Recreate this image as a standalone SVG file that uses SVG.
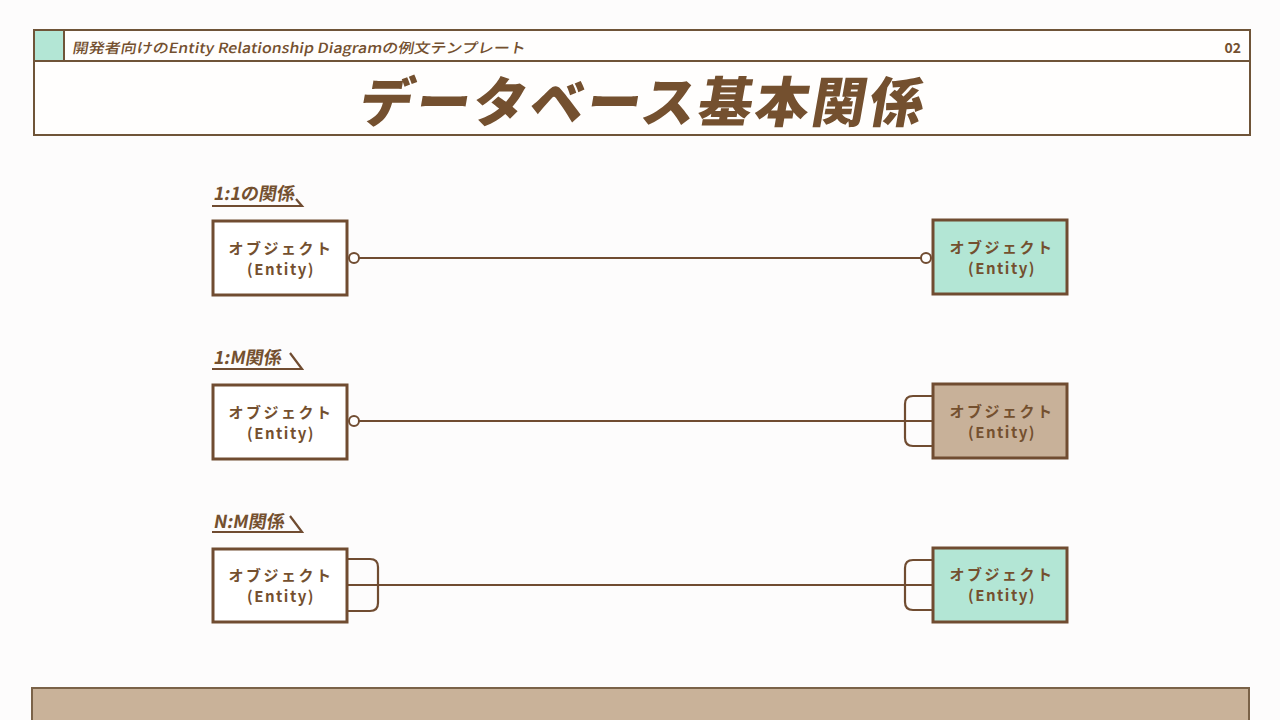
<svg xmlns="http://www.w3.org/2000/svg" width="1280" height="720" viewBox="0 0 1280 720">
<defs>
<style>
.bg{fill:#fdfcfc}
.frame{fill:#fffefd;stroke:#6f5438;stroke-width:2}
.box{stroke:#704c31;stroke-width:3}
.white{fill:#ffffff}
.teal{fill:#b3e6d5}
.tan{fill:#c8b199}
.conn{fill:none;stroke:#704c31;stroke-width:2.2}
.circ{fill:#ffffff;stroke:#704c31;stroke-width:2}
.t{font-family:"Noto Sans CJK JP","Noto Sans",sans-serif;fill:#74502f;font-weight:700}
.bt{font-family:"Noto Sans CJK JP","Noto Sans",sans-serif;fill:#74502f;font-weight:700;text-anchor:middle}
.en{font-size:15px;letter-spacing:1.5px}
</style>
</defs>
<rect class="bg" x="0" y="0" width="1280" height="720"/>

<g id="header">
<rect class="frame" x="34" y="30" width="1216" height="105"/>
<line x1="34" y1="61" x2="1250" y2="61" stroke="#6f5438" stroke-width="2"/>
<rect x="34" y="30" width="30" height="31" fill="#b3e6d5" stroke="#6f5438" stroke-width="2"/>
<text class="t" x="72" y="53" font-size="14" textLength="453" lengthAdjust="spacingAndGlyphs" transform="translate(0,53) skewX(-10) translate(0,-53)" style="font-weight:500">開発者向けのEntity Relationship Diagramの例文テンプレート</text>
<text class="t" x="1241" y="53" font-size="14" text-anchor="end">02</text>
<text class="t" x="640" y="122" font-size="54" text-anchor="middle" letter-spacing="3" transform="translate(0,122) skewX(-10) translate(0,-122)" style="font-weight:900">データベース基本関係</text>
</g>

<g id="footer">
<rect x="32" y="688" width="1217" height="40" fill="#c9b299" stroke="#7a6248" stroke-width="2"/>
</g>

<g id="labels">
<g id="label-11">
<text class="t" x="213" y="200" font-size="18" transform="translate(0,200) skewX(-10) translate(0,-200)">1:1の関係</text>
<polyline class="conn" points="212,206 302,206 296,199"/>
</g>
<g id="label-1m">
<text class="t" x="213" y="364" font-size="18" transform="translate(0,364) skewX(-10) translate(0,-364)">1:M関係</text>
<polyline class="conn" points="212,369 302,369 290,353"/>
</g>
<g id="label-nm">
<text class="t" x="213" y="528" font-size="18" transform="translate(0,528) skewX(-10) translate(0,-528)">N:M関係</text>
<polyline class="conn" points="212,532 302,532 290,516"/>
</g>
</g>

<g id="connectors">
<line class="conn" x1="359" y1="258" x2="921" y2="258"/>
<circle class="circ" cx="354" cy="258" r="5"/>
<circle class="circ" cx="926" cy="258" r="5"/>

<line class="conn" x1="359" y1="421" x2="933" y2="421"/>
<circle class="circ" cx="354" cy="421" r="5"/>
<path class="conn" d="M933,396 H913 Q905,396 905,404 V438 Q905,446 913,446 H933"/>

<line class="conn" x1="347" y1="585" x2="933" y2="585"/>
<path class="conn" d="M347,559 H370 Q378,559 378,567 V603 Q378,611 370,611 H347"/>
<path class="conn" d="M933,560 H913 Q905,560 905,568 V602 Q905,610 913,610 H933"/>
</g>

<g id="node-11-left">
<rect class="box white" x="213" y="221" width="134" height="74"/>
<text class="bt" x="281" y="254" font-size="15" letter-spacing="2.5">オブジェクト</text>
<text class="bt en" x="281" y="275">(Entity)</text>
</g>
<g id="node-11-right">
<rect class="box teal" x="933" y="220" width="134" height="74"/>
<text class="bt" x="1002" y="253" font-size="15" letter-spacing="2.5">オブジェクト</text>
<text class="bt en" x="1002" y="274">(Entity)</text>
</g>
<g id="node-1m-left">
<rect class="box white" x="213" y="385" width="134" height="74"/>
<text class="bt" x="281" y="418" font-size="15" letter-spacing="2.5">オブジェクト</text>
<text class="bt en" x="281" y="439">(Entity)</text>
</g>
<g id="node-1m-right">
<rect class="box tan" x="933" y="384" width="134" height="74"/>
<text class="bt" x="1002" y="417" font-size="15" letter-spacing="2.5">オブジェクト</text>
<text class="bt en" x="1002" y="438">(Entity)</text>
</g>
<g id="node-nm-left">
<rect class="box white" x="213" y="549" width="134" height="73"/>
<text class="bt" x="281" y="581" font-size="15" letter-spacing="2.5">オブジェクト</text>
<text class="bt en" x="281" y="602">(Entity)</text>
</g>
<g id="node-nm-right">
<rect class="box teal" x="933" y="548" width="134" height="74"/>
<text class="bt" x="1002" y="580" font-size="15" letter-spacing="2.5">オブジェクト</text>
<text class="bt en" x="1002" y="601">(Entity)</text>
</g>
</svg>
